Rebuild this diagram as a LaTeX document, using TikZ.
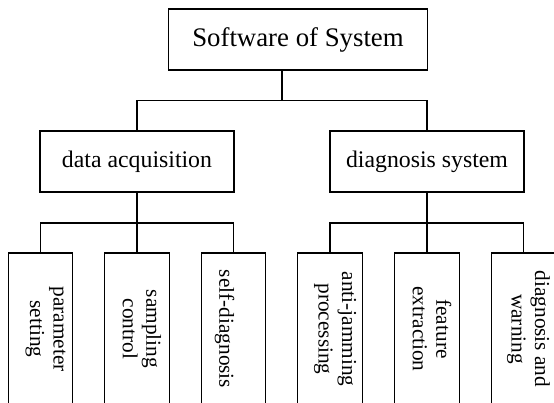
\documentclass[tikz,border=0pt]{standalone}
\usepackage{fontspec}
\setmainfont{Liberation Serif}
\begin{document}
\begin{tikzpicture}[x=1pt,y=-1pt,line width=1.2pt,
  box/.style={draw,rectangle,inner sep=0pt,outer sep=0pt,minimum height=61pt},
  rootbox/.style={box,minimum width=259pt,font=\fontsize{26.8}{30}\selectfont},
  midbox/.style={box,minimum width=194pt,font=\fontsize{23.8}{27}\selectfont},
  leafbox/.style={draw,rectangle,inner sep=0pt,outer sep=0pt,anchor=north,
    minimum width=64.5pt,minimum height=170pt},
  leaftext/.style={rotate=-90,align=center,inner sep=0pt,
    font=\fontsize{21.3}{23.5}\selectfont}]
\useasboundingbox (0,0) rectangle (554,402);
\clip (0,0) rectangle (554,402);

% root and second level
\node[rootbox] (root) at (298,39.5) {Software of System};
\node[midbox] (acq) at (137,161.5) {data acquisition};
\node[midbox] (diag) at (427,161.5) {diagnosis system};

% third level boxes (run past the lower edge)
\node[leafbox] (l1) at (40.5,253) {};
\node[leafbox] (l2) at (137,253) {};
\node[leafbox] (l3) at (233.5,253) {};
\node[leafbox] (l4) at (330,253) {};
\node[leafbox] (l5) at (427,253) {};
\node[leafbox] (l6) at (523.5,253) {};

% vertical labels
\node[leaftext] (t1) at ([xshift=5pt]l1.north |- 0,329) {parameter\\setting};
\node[leaftext] (t2) at ([xshift=5pt]l2.north |- 0,329) {sampling\\control};
\node[leaftext] (t3) at ([xshift=-9pt]l3.north |- 0,329) {self-diagnosis};
\node[leaftext] (t4) at ([xshift=5pt]l4.north |- 0,329) {anti-jamming\\processing};
\node[leaftext] (t5) at ([xshift=5pt]l5.north |- 0,329) {feature\\extraction};
\node[leaftext] (t6) at ([xshift=5pt]l6.north |- 0,329) {diagnosis and\\warning};

% bus levels
\coordinate (hub) at (282,100.7);
\coordinate (bus) at (0,223);

% connectors
\draw (root.south -| hub) -- (hub);
\draw (acq.north) -- (acq.north |- hub) -- (diag.north |- hub) -- (diag.north);
\draw (acq.south) -- (l2.north);
\draw (l1.north) -- (l1.north |- bus) -- (l3.north |- bus) -- (l3.north);
\draw (diag.south) -- (l5.north);
\draw (l4.north) -- (l4.north |- bus) -- (l6.north |- bus) -- (l6.north);
\end{tikzpicture}
\end{document}
